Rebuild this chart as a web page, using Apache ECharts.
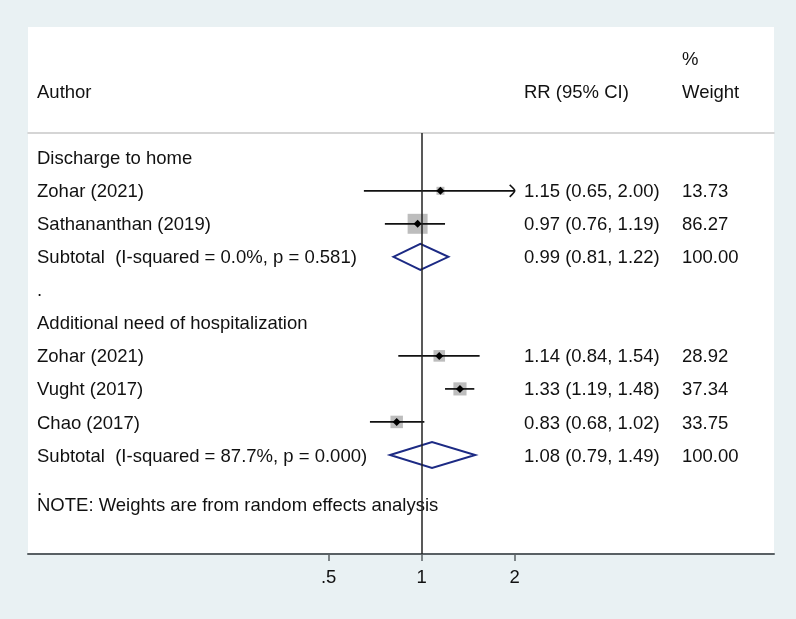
<!DOCTYPE html>
<html>
<head>
<meta charset="utf-8">
<script src="https://cdn.jsdelivr.net/npm/echarts@6/dist/echarts.min.js"></script>
<style>
  html, body { margin: 0; padding: 0; background: #E9F1F3; }
  #chart { width: 796px; height: 619px; }
</style>
</head>
<body>
<div id="chart"></div>
<script>
// ---- data ----
const labels = [
  'Discharge to home',
  'Zohar (2021)',
  'Sathananthan (2019)',
  'Subtotal  (I-squared = 0.0%, p = 0.581)',
  '.',
  'Additional need of hospitalization',
  'Zohar (2021)',
  'Vught (2017)',
  'Chao (2017)',
  'Subtotal  (I-squared = 87.7%, p = 0.000)',
  '.'
];
const rr     = [null, 1.15, 0.97, 0.99, null, null, 1.14, 1.33, 0.83, 1.08, null];
const lower  = [null, 0.65, 0.76, 0.81, null, null, 0.84, 1.19, 0.68, 0.79, null];
const upper  = [null, 2.00, 1.19, 1.22, null, null, 1.54, 1.48, 1.02, 1.49, null];
const weight = [null, 13.73, 86.27, 100.00, null, null, 28.92, 37.34, 33.75, 100.00, null];
const isSubtotal = [false, false, false, true, false, false, false, false, false, true, false];
const headerTop = ['', '', '%'];
const headerBottom = ['Author', 'RR (95% CI)', 'Weight'];
const noteText = 'NOTE: Weights are from random effects analysis';
const tickValues = [0.5, 1, 2];
const tickLabels = ['.5', '1', '2'];

// ---- layout / style ----
const FONT = '18.5px "Liberation Sans", Arial, sans-serif';
const TXT = '#111111';
const COL_X = [37, 524, 682];
const l2 = v => Math.log2(v);
const maxTick = l2(tickValues[tickValues.length - 1]);

const rowData = labels.map((lab, i) => [
  i,
  rr[i] == null ? NaN : l2(rr[i]),
  lower[i] == null ? NaN : l2(lower[i]),
  upper[i] == null ? NaN : l2(upper[i]),
  weight[i] == null ? NaN : weight[i]
]);

function txt(text, x, y) {
  return { type: 'text', silent: true,
    style: { text: text, x: x, y: y + 1.5, font: FONT, fill: TXT, align: 'left', verticalAlign: 'middle' } };
}

const chart = echarts.init(document.getElementById('chart'), null, { renderer: 'canvas' });

chart.setOption({
  backgroundColor: '#E9F1F3',
  animation: false,
  graphic: [{
    type: 'rect', z: -10, silent: true,
    shape: { x: 28, y: 27, width: 746, height: 527 },
    style: { fill: '#ffffff' }
  }],
  grid: { left: 28, right: 22, top: 133, bottom: 65 },
  xAxis: [{
    type: 'value', min: -4.233, max: 3.788, position: 'bottom',
    splitLine: { show: false },
    axisLine: { show: true, onZero: false, lineStyle: { color: '#596064', width: 2 } },
    axisTick: { show: true, customValues: tickValues.map(l2), length: 7, lineStyle: { color: '#596064', width: 1.5 } },
    axisLabel: {
      customValues: tickValues.map(l2), margin: 14,
      fontFamily: '"Liberation Sans", Arial, sans-serif', fontSize: 18.5, color: TXT,
      formatter: v => {
        const k = tickValues.findIndex(t => Math.abs(l2(t) - v) < 1e-9);
        return k >= 0 ? tickLabels[k] : '';
      }
    }
  }, {
    type: 'value', position: 'top', min: -4.233, max: 3.788,
    splitLine: { show: false },
    axisLine: { show: true, onZero: false, lineStyle: { color: '#c8c8c8', width: 1.5 } },
    axisTick: { show: false }, axisLabel: { show: false }
  }],
  yAxis: {
    type: 'value', inverse: true, min: -0.75, max: 12, show: false
  },
  series: [
    {
      type: 'line', data: [], silent: true,
      markLine: {
        silent: true, symbol: 'none', label: { show: false },
        lineStyle: { color: '#222', width: 1.5, type: 'solid' },
        data: [{ xAxis: l2(1) }]
      }
    },
    {
      type: 'custom', clip: false, z: 3,
      data: rowData,
      renderItem: function (params, api) {
        const i = params.dataIndex;
        const y = api.coord([0, api.value(0)])[1];
        const children = [txt(labels[i], COL_X[0], y)];
        if (rr[i] != null) {
          children.push(txt(rr[i].toFixed(2) + ' (' + lower[i].toFixed(2) + ', ' + upper[i].toFixed(2) + ')', COL_X[1], y));
          children.push(txt(weight[i].toFixed(2), COL_X[2], y));
          const xe = api.coord([api.value(1), 0])[0];
          const xl = api.coord([api.value(2), 0])[0];
          const xh = api.coord([api.value(3), 0])[0];
          if (isSubtotal[i]) {
            const h = 13;
            children.push({ type: 'polygon', shape: { points: [[xl, y], [xe, y - h], [xh, y], [xe, y + h]] },
              style: { fill: 'none', stroke: '#1c2a84', lineWidth: 2 } });
          } else {
            const s = 2.15 * Math.sqrt(api.value(4));
            children.push({ type: 'rect', shape: { x: xe - s / 2, y: y - s / 2, width: s, height: s },
              style: { fill: '#bdbdbd' } });
            children.push({ type: 'line', shape: { x1: xl, y1: y, x2: xh, y2: y },
              style: { stroke: '#111', lineWidth: 1.7 } });
            if (api.value(3) >= maxTick - 1e-9) {
              children.push({ type: 'polyline', shape: { points: [[xh - 5, y - 6], [xh - 1.5, y - 2.5], [xh, y], [xh - 1.5, y + 2.5], [xh - 5, y + 6]], smooth: 0.4 },
                style: { stroke: '#111', lineWidth: 1.6, fill: 'none' } });
            }
            const d = 4;
            children.push({ type: 'polygon', shape: { points: [[xe - d, y], [xe, y - d], [xe + d, y], [xe, y + d]] },
              style: { fill: '#000' } });
          }
        }
        return { type: 'group', children: children };
      }
    },
    {
      type: 'custom', clip: false, z: 3,
      data: [[-3, 0], [-2, 1], [10.5, 2]],
      renderItem: function (params, api) {
        const y = api.coord([0, api.value(0)])[1];
        const k = params.dataIndex;
        if (k === 2) return { type: 'group', children: [txt(noteText, COL_X[0], y)] };
        const arr = k === 0 ? headerTop : headerBottom;
        return { type: 'group', children: arr.map((t, j) => txt(t, COL_X[j], y)) };
      }
    }
  ]
});
</script>
</body>
</html>
